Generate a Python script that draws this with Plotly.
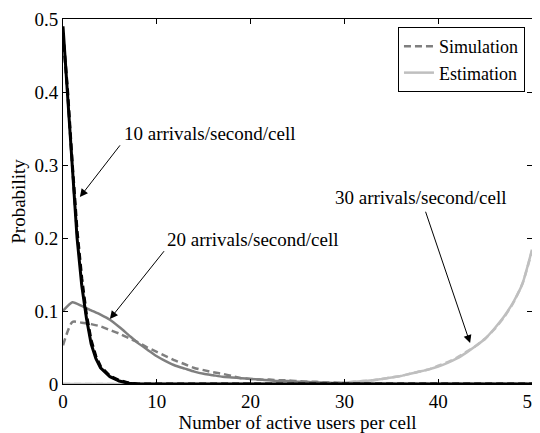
import plotly.graph_objects as go

# arrival rate 10 /s/cell, sampled finer near the origin
x_10 = [0, 0.5, 1, 1.5, 2, 2.5, 3, 3.5, 4, 5, 6, 7, 8, 10, 20, 30, 40, 50]
est_10 = [0.49, 0.39, 0.29, 0.20, 0.135, 0.09, 0.055, 0.035, 0.022, 0.01, 0.004, 0.001, 0, 0, 0, 0, 0, 0]
sim_10 = [0.48, 0.40, 0.30, 0.21, 0.145, 0.095, 0.06, 0.038, 0.024, 0.011, 0.005, 0.0015, 0, 0, 0, 0, 0, 0]

x_users = list(range(0, 51))
est_20 = [0.100, 0.112, 0.107, 0.101, 0.095, 0.088, 0.078, 0.067, 0.056, 0.047,
          0.038, 0.031, 0.025, 0.021, 0.017, 0.014, 0.012, 0.010, 0.009, 0.008,
          0.007, 0.006, 0.005, 0.004, 0.004, 0.003, 0.003, 0.002, 0.002, 0.001,
          0.001, 0.001, 0.001, 0.0005, 0.0005, 0, 0, 0, 0, 0,
          0, 0, 0, 0, 0, 0, 0, 0, 0, 0, 0]
sim_20 = [0.053, 0.085, 0.084, 0.082, 0.079, 0.074, 0.069, 0.063, 0.057, 0.050,
          0.044, 0.038, 0.032, 0.027, 0.022, 0.019, 0.016, 0.014, 0.011, 0.008,
          0.007, 0.006, 0.006, 0.005, 0.005, 0.004, 0.003, 0.003, 0.002, 0.002,
          0.001, 0.001, 0.001, 0, 0, 0, 0, 0, 0, 0,
          0, 0, 0, 0, 0, 0, 0, 0, 0, 0, 0]
est_30 = [0, 0, 0, 0, 0, 0, 0, 0, 0, 0,
          0, 0, 0, 0, 0, 0, 0, 0, 0, 0,
          0, 0, 0, 0, 0, 0, 0, 0.0005, 0.001, 0.0015,
          0.002, 0.003, 0.004, 0.005, 0.007, 0.009, 0.011, 0.014, 0.017, 0.020,
          0.024, 0.029, 0.035, 0.043, 0.052, 0.062, 0.076, 0.092, 0.112, 0.138, 0.184]
sim_30 = [0, 0, 0, 0, 0, 0, 0, 0, 0, 0,
          0, 0, 0, 0, 0, 0, 0, 0, 0, 0,
          0, 0, 0, 0, 0, 0, 0, 0.0005, 0.001, 0.0015,
          0.002, 0.003, 0.004, 0.005, 0.007, 0.009, 0.011, 0.014, 0.017, 0.020,
          0.025, 0.030, 0.036, 0.044, 0.052, 0.062, 0.075, 0.091, 0.111, 0.138, 0.182]

BLACK = "#000000"
GRAY = "#7f7f7f"
LIGHT = "#bfbfbf"
DASH = "7px,4px"
FONT = "Liberation Serif"
FS = 19

fig = go.Figure()
fig.add_trace(go.Scatter(x=x_users, y=est_30, mode="lines", name="Estimation",
                         line=dict(color=LIGHT, width=2.5, shape="spline", smoothing=0.5),
                         showlegend=True, legendrank=2))
fig.add_trace(go.Scatter(x=x_users, y=sim_30, mode="lines",
                         line=dict(color=LIGHT, width=2.5, dash=DASH, shape="spline", smoothing=0.5),
                         showlegend=False))
fig.add_trace(go.Scatter(x=x_users, y=est_20, mode="lines",
                         line=dict(color=GRAY, width=2.5, shape="spline", smoothing=0.6),
                         showlegend=False))
fig.add_trace(go.Scatter(x=x_users, y=sim_20, mode="lines", name="Simulation",
                         line=dict(color=GRAY, width=2.5, dash=DASH, shape="spline", smoothing=0.6),
                         showlegend=True, legendrank=1))
fig.add_trace(go.Scatter(x=x_10, y=est_10, mode="lines", line=dict(color=BLACK, width=3),
                         showlegend=False))
fig.add_trace(go.Scatter(x=x_10, y=sim_10, mode="lines", line=dict(color=BLACK, width=3, dash=DASH),
                         showlegend=False))

labels = [
    ("10 arrivals/second/cell", 6.3, 0.343, 6.2, 0.329, 1.8, 0.256),
    ("20 arrivals/second/cell", 10.9, 0.198, 10.9, 0.184, 5.0, 0.089),
    ("30 arrivals/second/cell", 28.8, 0.255, 38.6, 0.238, 43.4, 0.056),
]
for txt, tx, ty, ax, ay, hx, hy in labels:
    fig.add_annotation(x=tx, y=ty, text=txt, showarrow=False, xanchor="left", yanchor="middle",
                       font=dict(family=FONT, size=FS, color="black"))
    fig.add_annotation(x=hx, y=hy, ax=ax, ay=ay, axref="x", ayref="y", text="",
                       showarrow=True, arrowhead=2, arrowsize=1.6, arrowwidth=1, arrowcolor="black")

axis_style = dict(showline=True, linecolor="black", linewidth=1, mirror="ticks", ticks="inside",
                  ticklen=5, tickcolor="black", showgrid=False, zeroline=False,
                  ticklabeloverflow="allow",
                  tickfont=dict(family=FONT, size=FS, color="black"))
fig.update_xaxes(range=[0, 50], tickvals=[0, 10, 20, 30, 40, 50],
                 title=dict(text="Number of active users per cell", standoff=3,
                            font=dict(family=FONT, size=FS, color="black")), **axis_style)
fig.update_yaxes(range=[0, 0.5], tickvals=[0, 0.1, 0.2, 0.3, 0.4, 0.5],
                 ticktext=["0", "0.1", "0.2", "0.3", "0.4", "0.5"],
                 title=dict(text="Probability", standoff=7,
                            font=dict(family=FONT, size=FS, color="black")), **axis_style)
# page body adds an 8px margin, so the figure is sized to fit the window
fig.update_layout(
    width=532, height=425, margin=dict(l=55, r=8, t=11, b=49, autoexpand=False),
    plot_bgcolor="white", paper_bgcolor="white",
    legend=dict(x=0.985, y=0.978, xanchor="right", yanchor="top", bgcolor="white",
                bordercolor="black", borderwidth=1, font=dict(family=FONT, size=18, color="black"),
                tracegroupgap=0, itemwidth=30),
)
fig.write_html("out.html")
